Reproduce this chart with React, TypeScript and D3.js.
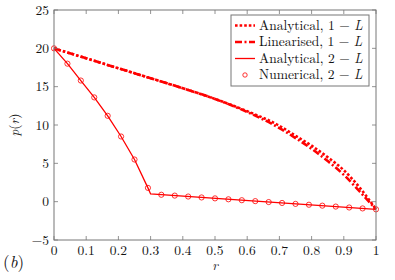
import * as d3 from "d3";
import * as React from "react";

// 2-L, numerical solution (markers), r = k/24
const rNum = [
  0, 0.0417, 0.0833, 0.125, 0.1667, 0.2083, 0.25, 0.2917, 0.3333, 0.375,
  0.4167, 0.4583, 0.5, 0.5417, 0.5833, 0.625, 0.6667, 0.7083, 0.75, 0.7917,
  0.8333, 0.875, 0.9167, 0.9583, 1,
];
const pNum = [
  20, 18.0, 15.8, 13.6, 11.2, 8.5, 5.5, 1.8, 0.9, 0.79, 0.67, 0.55, 0.43,
  0.31, 0.19, 0.07, -0.05, -0.17, -0.29, -0.4, -0.52, -0.64, -0.76, -0.88,
  -1.0,
];

// 2-L, analytical
const rAna2 = [0, 0.0417, 0.0833, 0.125, 0.1667, 0.2083, 0.25, 0.2917, 0.3, 1];
const pAna2 = [20, 18.0, 15.8, 13.6, 11.2, 8.5, 5.5, 1.8, 1.0, -1.0];

// 1-L, analytical and linearised
const r1L = [0, 0.1, 0.2, 0.3, 0.4, 0.5, 0.6, 0.7, 0.75, 0.8, 0.85, 0.9, 0.95, 1];
const pAna1 = [20, 18.7, 17.4, 16.1, 14.8, 13.4, 11.8, 9.9, 8.6, 7.3, 5.8, 4.1, 1.8, -1];
const pLin1 = [20, 18.7, 17.4, 16.1, 14.8, 13.4, 11.7, 9.6, 8.3, 6.9, 5.3, 3.5, 1.3, -1];

const xTicks = [0, 0.1, 0.2, 0.3, 0.4, 0.5, 0.6, 0.7, 0.8, 0.9, 1];
const yTicks = [-5, 0, 5, 10, 15, 20, 25];

const legendLabels = ["Analytical, 1 \u2212 ", "Linearised, 1 \u2212 ", "Analytical, 2 \u2212 ", "Numerical, 2 \u2212 "];

const RED = "#ff0000";
const AXIS = "#777";
const INK = "#111";
const txt = { fontFamily: "Latin Modern Roman" };

export default function App() {
  const width = 395,
    height = 280;
  const margin = { top: 10, right: 19, bottom: 40, left: 54 };
  const w = width - margin.left - margin.right,
    h = height - margin.top - margin.bottom;

  const x = d3.scaleLinear().domain([0, 1]).range([0, w]);
  const y = d3.scaleLinear().domain([-5, 25]).range([h, 0]);

  const line = d3
    .line<[number, number]>()
    .x((d) => x(d[0]))
    .y((d) => y(d[1]));
  const curve = d3
    .line<[number, number]>()
    .x((d) => x(d[0]))
    .y((d) => y(d[1]))
    .curve(d3.curveMonotoneX);

  const ana1 = r1L.map((r, i) => [r, pAna1[i]] as [number, number]);
  const lin1 = r1L.map((r, i) => [r, pLin1[i]] as [number, number]);
  const ana2 = rAna2.map((r, i) => [r, pAna2[i]] as [number, number]);

  const styles = [
    { dash: "2.6 2", width: 2.6 },
    { dash: "7 2.5 2 2.5", width: 2.6 },
    { dash: null, width: 1.3 },
  ];

  const lgX = 231,
    lgY = 15,
    lgW = 138,
    lgH = 71;

  return (
    <svg width={width} height={height} style={{ position: "absolute", left: 0, top: 0, background: "#fff" }}>
      <g transform={`translate(${margin.left},${margin.top})`}>
        <defs>
          <clipPath id="plotclip">
            <rect x={-3} y={-3} width={w + 6} height={h + 6} />
          </clipPath>
        </defs>
        <g clipPath="url(#plotclip)">
          <path d={curve(ana1) || ""} fill="none" stroke={RED} strokeWidth={2.6} strokeDasharray="2.6 2" />
          <path d={curve(lin1) || ""} fill="none" stroke={RED} strokeWidth={2.6} strokeDasharray="7 2.5 2 2.5" />
          <path d={line(ana2) || ""} fill="none" stroke={RED} strokeWidth={1.3} />
          {rNum.map((r, i) => (
            <circle key={i} cx={x(r)} cy={y(pNum[i])} r={2.6} fill="none" stroke={RED} strokeWidth={0.8} />
          ))}
        </g>

        {/* ticks on all four sides, pointing inward */}
        {xTicks.map((t) => (
          <g key={"x" + t}>
            <line x1={x(t)} x2={x(t)} y1={h} y2={h - 4} stroke={AXIS} strokeWidth={0.8} />
            <line x1={x(t)} x2={x(t)} y1={0} y2={4} stroke={AXIS} strokeWidth={0.8} />
            <text x={x(t)} y={h + 15} fontSize={13.5} textAnchor="middle" fill={INK} style={txt}>
              {t === 0 || t === 1 ? String(t) : t.toFixed(1)}
            </text>
          </g>
        ))}
        {yTicks.map((t) => (
          <g key={"y" + t}>
            <line x1={0} x2={4} y1={y(t)} y2={y(t)} stroke={AXIS} strokeWidth={0.8} />
            <line x1={w} x2={w - 4} y1={y(t)} y2={y(t)} stroke={AXIS} strokeWidth={0.8} />
            <text x={-5} y={y(t) + 4.5} fontSize={13.5} textAnchor="end" fill={INK} style={txt}>
              {t < 0 ? "\u2212" + Math.abs(t) : t}
            </text>
          </g>
        ))}
        <rect x={0} y={0} width={w} height={h} fill="none" stroke={AXIS} strokeWidth={1} />
      </g>

      {/* axis labels */}
      <text x={margin.left + w / 2} y={270} fontSize={13.5} fontStyle="italic" textAnchor="middle" fill={INK} style={txt}>
        r
      </text>
      <text
        transform={`translate(19,${margin.top + h / 2}) rotate(-90)`}
        fontSize={13.5}
        textAnchor="middle"
        fill={INK}
        style={txt}
      >
        <tspan fontStyle="italic">p</tspan>(<tspan fontStyle="italic">r</tspan>)
      </text>
      <text x={3} y={268} fontSize={17} fill={INK} style={txt}>
        (<tspan fontStyle="italic">b</tspan>)
      </text>

      {/* legend */}
      <g>
        <rect x={lgX} y={lgY} width={lgW} height={lgH} fill="#fff" stroke={AXIS} strokeWidth={1} />
        {legendLabels.map((lab, i) => {
          const cy = lgY + 10.5 + i * 16.5;
          const s = styles[i];
          return (
            <g key={lab}>
              {i < 3 ? (
                <line
                  x1={lgX + 4}
                  x2={lgX + 24}
                  y1={cy}
                  y2={cy}
                  stroke={RED}
                  strokeWidth={s.width}
                  strokeDasharray={s.dash || undefined}
                />
              ) : (
                <circle cx={lgX + 14} cy={cy} r={2.2} fill="none" stroke={RED} strokeWidth={0.8} />
              )}
              <text x={lgX + 28} y={cy + 4.3} fontSize={13.5} fill={INK} style={txt}>
                {lab}
                <tspan fontStyle="italic">L</tspan>
              </text>
            </g>
          );
        })}
      </g>
    </svg>
  );
}
